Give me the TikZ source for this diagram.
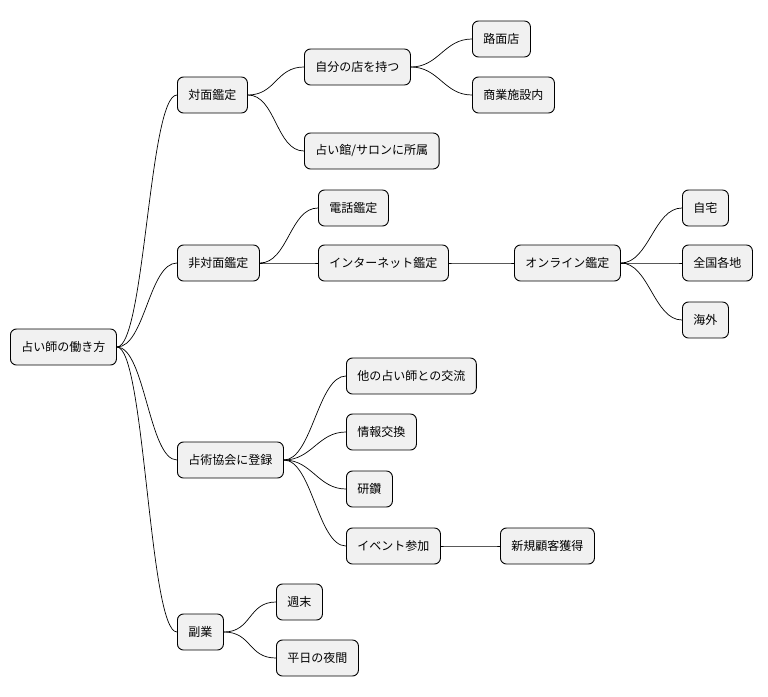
\documentclass[tikz,border=0pt]{standalone}
\usepackage{fontspec}
\setmainfont{Noto Sans CJK JP}
\begin{document}
\begin{tikzpicture}[x=1pt,y=-1pt,
  n/.style={draw=black,line width=0.9pt,fill={rgb,255:red,241;green,241;blue,241},rounded corners=6pt,
    minimum height=36pt,inner xsep=11pt,anchor=west,font=\fontsize{12}{14}\selectfont},
  e/.style={draw=black,line width=0.7pt}]
\useasboundingbox (0,0) rectangle (768,696);
\node[n] (r) at (10,347) {占い師の働き方};
\node[n] (a) at (177,95) {対面鑑定};
\node[n] (a1) at (304,67) {自分の店を持つ};
\node[n] (a11) at (472,39) {路面店};
\node[n] (a12) at (472,95) {商業施設内};
\node[n] (a2) at (304,151) {占い館/サロンに所属};
\node[n] (b) at (177,263) {非対面鑑定};
\node[n] (b1) at (318,208) {電話鑑定};
\node[n] (b2) at (318,263) {インターネット鑑定};
\node[n] (b3) at (514,263) {オンライン鑑定};
\node[n] (b31) at (682,208) {自宅};
\node[n] (b32) at (682,263) {全国各地};
\node[n] (b33) at (682,320) {海外};
\node[n] (c) at (177,460) {占術協会に登録};
\node[n] (c1) at (346,376) {他の占い師との交流};
\node[n] (c2) at (346,432) {情報交換};
\node[n] (c3) at (346,489) {研鑽};
\node[n] (c4) at (346,546) {イベント参加};
\node[n] (c41) at (500,546) {新規顧客獲得};
\node[n] (d) at (177,632) {副業};
\node[n] (d1) at (276,602) {週末};
\node[n] (d2) at (276,658) {平日の夜間};
\foreach \p/\c in {r/a,r/b,r/c,r/d,a/a1,a/a2,a1/a11,a1/a12,b/b1,b/b2,b2/b3,b3/b31,b3/b32,b3/b33,c/c1,c/c2,c/c3,c/c4,c4/c41,d/d1,d/d2}
  \draw[e] (\p.east) .. controls +(28,0) and +(-28,0) .. (\c.west);
\end{tikzpicture}
\end{document}
